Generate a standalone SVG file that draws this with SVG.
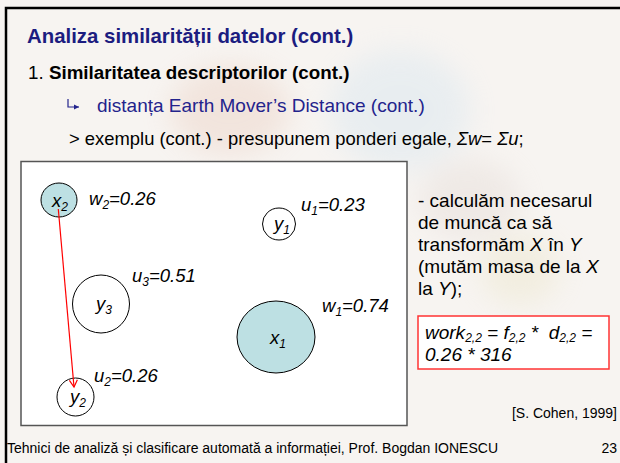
<svg xmlns="http://www.w3.org/2000/svg" width="620" height="463" viewBox="0 0 620 463">
<defs>
<filter id="blur" x="-20%" y="-20%" width="140%" height="140%"><feGaussianBlur stdDeviation="14"/></filter>
<marker id="ah" markerWidth="10" markerHeight="10" refX="8" refY="5" orient="auto" markerUnits="userSpaceOnUse">
<path d="M1,1 L8,5 L1,9" fill="none" stroke="#ff0000" stroke-width="1.2"/>
</marker>
<marker id="bh" markerWidth="6" markerHeight="6" refX="5" refY="3" orient="auto" markerUnits="userSpaceOnUse">
<path d="M0,0.5 L5,3 L0,5.5 Z" fill="#23238c"/>
</marker>
</defs>
<style>
.t{font-family:"Liberation Sans",Arial,sans-serif;fill:#000}
.body{font-size:19px}
.lbl{font-family:"Liberation Sans",Arial,sans-serif;font-style:italic;font-size:18.5px;fill:#000}
.sub{font-size:12px}
.filled{fill:#bde0e3;stroke:#000;stroke-width:1}
.empty{fill:#fff;stroke:#000;stroke-width:1}
.small{font-size:14px}
</style>
<rect x="0" y="0" width="620" height="463" fill="#f7f4f1"/>
<g id="watermark" filter="url(#blur)" opacity="0.35">
<ellipse cx="230" cy="110" rx="60" ry="45" fill="#e8c8b8"/>
<ellipse cx="400" cy="110" rx="70" ry="60" fill="#cfe2ef"/>
<ellipse cx="520" cy="270" rx="40" ry="35" fill="#e8e2c0"/>
<ellipse cx="470" cy="200" rx="50" ry="40" fill="#e0d6d0"/>
</g>
<path d="M6,463 V8 H620" fill="none" stroke="#000" stroke-width="2.5"/>

<g id="header">
<text class="t" x="27" y="43" font-size="20.4" font-weight="bold" style="fill:#1c1c80">Analiza similarității datelor (cont.)</text>
<text class="t" x="28" y="79" font-size="18.8">1. <tspan font-weight="bold">Similaritatea descriptorilor (cont.)</tspan></text>
<path d="M68,99 V107 H79" fill="none" stroke="#23238c" stroke-width="1.2" marker-end="url(#bh)"/>
<text class="t body" x="97" y="112" style="fill:#23238c">distanța Earth Mover’s Distance (cont.)</text>
<text class="t" x="69" y="145" font-size="18.4">&gt; exemplu (cont.) - presupunem ponderi egale, <tspan font-style="italic">Σw</tspan>= <tspan font-style="italic">Σu</tspan>;</text>
</g>

<rect id="panel" x="21" y="161.5" width="386" height="264" fill="#fff" stroke="#555" stroke-width="1.5"/>

<g id="x2">
<ellipse class="filled" cx="59" cy="200" rx="18" ry="17"/>
<text class="lbl" x="60" y="207" text-anchor="middle">x<tspan class="sub" dy="4">2</tspan></text>
<text class="lbl" x="89" y="205">w<tspan class="sub" dy="4">2</tspan><tspan dy="-4">=0.26</tspan></text>
</g>
<g id="y1">
<ellipse class="empty" cx="279" cy="224" rx="16.5" ry="16"/>
<text class="lbl" x="282" y="230" text-anchor="middle">y<tspan class="sub" dy="4">1</tspan></text>
<text class="lbl" x="301" y="211">u<tspan class="sub" dy="4">1</tspan><tspan dy="-4">=0.23</tspan></text>
</g>
<g id="y3">
<ellipse class="empty" cx="101" cy="304" rx="28.5" ry="29"/>
<text class="lbl" x="104" y="310" text-anchor="middle">y<tspan class="sub" dy="4">3</tspan></text>
<text class="lbl" x="132" y="282">u<tspan class="sub" dy="4">3</tspan><tspan dy="-4">=0.51</tspan></text>
</g>
<g id="x1">
<ellipse class="filled" cx="276" cy="337" rx="39" ry="36"/>
<text class="lbl" x="278" y="344" text-anchor="middle">x<tspan class="sub" dy="4">1</tspan></text>
<text class="lbl" x="322" y="312">w<tspan class="sub" dy="4">1</tspan><tspan dy="-4">=0.74</tspan></text>
</g>
<g id="y2">
<ellipse class="empty" cx="75.5" cy="397" rx="18.5" ry="19"/>
<text class="lbl" x="78" y="403" text-anchor="middle">y<tspan class="sub" dy="4">2</tspan></text>
<text class="lbl" x="94" y="382">u<tspan class="sub" dy="4">2</tspan><tspan dy="-4">=0.26</tspan></text>
</g>

<g id="connectors">
<line x1="58.3" y1="209" x2="74" y2="387" stroke="#ff0000" stroke-width="1.2" marker-end="url(#ah)"/>
</g>

<g id="explanation">
<text class="t body" x="418" y="207">- calculăm necesarul</text>
<text class="t body" x="418" y="229">de muncă ca să</text>
<text class="t body" x="418" y="251">transformăm <tspan font-style="italic">X</tspan> în <tspan font-style="italic">Y</tspan></text>
<text class="t body" x="418" y="273">(mutăm masa de la <tspan font-style="italic">X</tspan></text>
<text class="t body" x="418" y="295">la <tspan font-style="italic">Y</tspan>);</text>
</g>

<g id="formula">
<rect x="418" y="316" width="191" height="53" fill="#fff" stroke="#ff3333" stroke-width="1.5"/>
<text class="t body" x="425" y="339" font-style="italic">work<tspan class="sub" dy="3">2,2</tspan><tspan dy="-3"> = f</tspan><tspan class="sub" dy="3">2,2</tspan><tspan dy="-3"> *&#160; d</tspan><tspan class="sub" dy="3">2,2</tspan><tspan dy="-3"> =</tspan></text>
<text class="t body" x="425" y="361" font-style="italic">0.26 * 316</text>
</g>

<g id="footer">
<text class="t small" x="617" y="418" text-anchor="end">[S. Cohen, 1999]</text>
<text class="t small" x="7" y="453">Tehnici de analiză și clasificare automată a informației, Prof. Bogdan IONESCU</text>
<text class="t small" x="617" y="453" text-anchor="end">23</text>
</g>
</svg>
